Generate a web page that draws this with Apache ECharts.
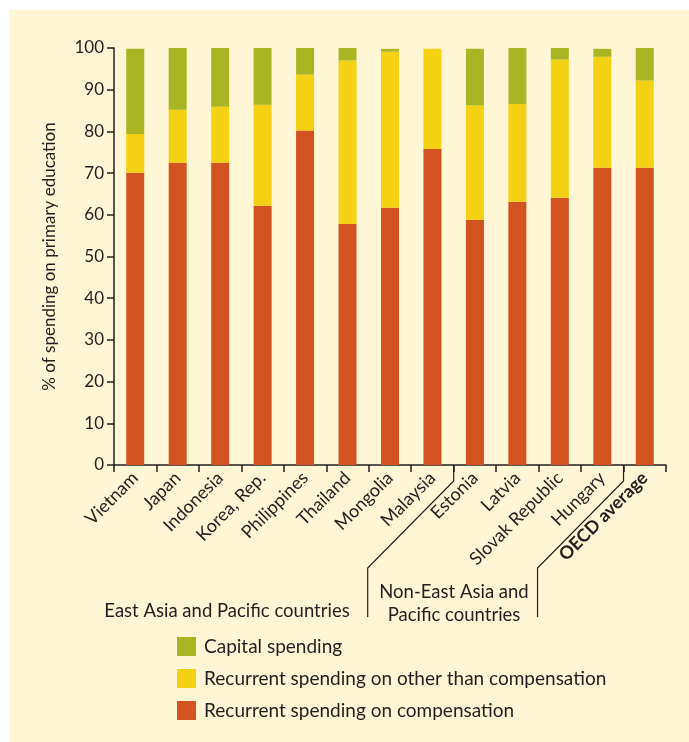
<!DOCTYPE html>
<html>
<head>
<meta charset="utf-8">
<script src="https://cdn.jsdelivr.net/npm/echarts@6/dist/echarts.min.js"></script>
<style>
  html, body { margin: 0; padding: 0; background: #ffffff; }
  #chart { position: absolute; left: 9px; top: 10px; width: 680px; height: 732px; background: #FEF6D5; }
</style>
</head>
<body>
<div id="chart"></div>
<script>
const categories = ['Vietnam', 'Japan', 'Indonesia', 'Korea, Rep.', 'Philippines', 'Thailand', 'Mongolia', 'Malaysia', 'Estonia', 'Latvia', 'Slovak Republic', 'Hungary', 'OECD average'];
const compensation = [70.1, 72.5, 72.5, 62.2, 80.2, 57.8, 61.7, 75.8, 58.8, 63.1, 64.1, 71.3, 71.3];
const otherRecurrent = [9.3, 12.7, 13.4, 24.2, 13.4, 39.2, 37.4, 24.0, 27.4, 23.5, 33.1, 26.6, 20.9];
const capital = [20.4, 14.8, 14.1, 13.6, 6.4, 3.0, 0.7, 0, 13.6, 13.4, 2.8, 1.9, 7.8];
const yTicks = [0, 10, 20, 30, 40, 50, 60, 70, 80, 90, 100];
const seriesNames = ['Recurrent spending on compensation', 'Recurrent spending on other than compensation', 'Capital spending'];
const groupNames = ['East Asia and Pacific countries', 'Non-East Asia and\nPacific countries'];

const FONT = 'Lato';
const TXT = '#231F20';
const chart = echarts.init(document.getElementById('chart'), null, { renderer: 'canvas' });

const option = {
  backgroundColor: '#FEF6D5',
  animation: false,
  textStyle: { fontFamily: FONT, color: TXT },
  grid: { left: 105, right: 23, top: 38, bottom: 277, containLabel: false },
  legend: {
    data: [seriesNames[2], seriesNames[1], seriesNames[0]],
    orient: 'vertical',
    left: 168, top: 627, padding: 0,
    itemWidth: 19, itemHeight: 19, itemGap: 13,
    icon: 'rect',
    textStyle: { fontFamily: FONT, fontSize: 19, color: TXT, padding: [0, 0, 0, 3] },
    selectedMode: false
  },
  xAxis: {
    type: 'category',
    data: categories,
    axisLine: { lineStyle: { color: TXT, width: 1.5 } },
    axisTick: { show: true, length: 7, lineStyle: { color: TXT, width: 1.5 } },
    axisLabel: {
      rotate: 45, fontSize: 18, color: TXT, fontFamily: FONT, margin: 10, interval: 0,
      formatter: function (v) { return v === 'OECD average' ? '{b|' + v + '}' : v; },
      rich: { b: { fontWeight: 'bold', fontSize: 18, fontFamily: FONT, color: TXT } }
    }
  },
  yAxis: {
    type: 'value', min: 0, max: 100, interval: 10,
    name: '% of spending on primary education',
    nameLocation: 'middle', nameRotate: 90, nameGap: 56,
    nameTextStyle: { fontSize: 17, color: TXT, fontFamily: FONT },
    axisLine: { show: true, lineStyle: { color: TXT, width: 1.5 } },
    axisTick: { show: true, length: 7, lineStyle: { color: TXT, width: 1.5 } },
    axisLabel: { fontSize: 17, color: TXT, fontFamily: FONT, margin: 10, customValues: yTicks },
    splitLine: { show: false }
  },
  series: [
    { name: seriesNames[0], type: 'bar', stack: 's', data: compensation, barWidth: 18, itemStyle: { color: '#D25220' } },
    { name: seriesNames[1], type: 'bar', stack: 's', data: otherRecurrent, barWidth: 18, itemStyle: { color: '#F5D113' } },
    { name: seriesNames[2], type: 'bar', stack: 's', data: capital, barWidth: 18, itemStyle: { color: '#A9B523' } }
  ]
};
chart.setOption(option);

// group divider lines located from the category axis
function boundaryX(i) {
  const a = chart.convertToPixel({ xAxisIndex: 0 }, categories[i]);
  const b = chart.convertToPixel({ xAxisIndex: 0 }, categories[i + 1]);
  return (a + b) / 2;
}
const y0 = chart.convertToPixel({ yAxisIndex: 0 }, 0);
const x1 = boundaryX(7);
const x2 = boundaryX(11);
const lineStyle = { stroke: TXT, lineWidth: 1.2, fill: null };
function divider(x) {
  return {
    type: 'polyline', silent: true,
    shape: { points: [[x, y0], [x, y0 + 16], [x - 86, y0 + 103], [x - 86, y0 + 152]] },
    style: lineStyle
  };
}
chart.setOption({
  graphic: [
    divider(x1),
    divider(x2),
    { type: 'text', silent: true,
      style: { text: groupNames[0], x: 218, y: 592, fill: TXT, font: '18.5px ' + FONT, textAlign: 'center', textVerticalAlign: 'top' } },
    { type: 'text', silent: true,
      style: { text: groupNames[1], x: 445, y: 571, fill: TXT, font: '18.5px ' + FONT, textAlign: 'center', textVerticalAlign: 'top', lineHeight: 23 } }
  ]
});
</script>
</body>
</html>
